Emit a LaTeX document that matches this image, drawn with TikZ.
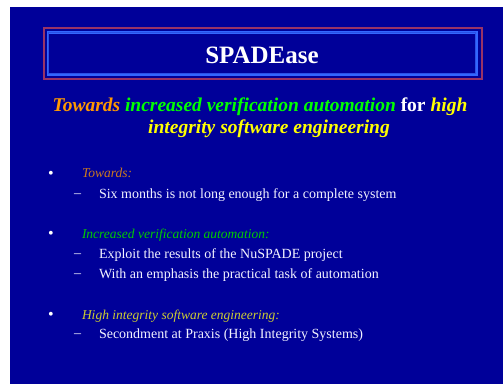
\documentclass[tikz,border=0pt]{standalone}
\usepackage{fontspec}
\setmainfont{Liberation Serif}[
  UprightFont={Liberation Serif},
  BoldFont={Liberation Serif Bold},
  ItalicFont={Liberation Serif Italic},
  BoldItalicFont={Liberation Serif Bold Italic}]
\definecolor{bgblue}{HTML}{000099}
\definecolor{frameout}{HTML}{993366}
\definecolor{framein}{HTML}{3366FF}
\definecolor{framemid}{HTML}{2A50E6}
\definecolor{torange}{HTML}{FF9900}
\definecolor{tgreen}{HTML}{00FF00}
\definecolor{tyellow}{HTML}{FFFF00}
\definecolor{horange}{HTML}{CC7A1F}
\definecolor{hgreen}{HTML}{00CC00}
\definecolor{hyellow}{HTML}{CCCC33}
\definecolor{btext}{HTML}{F2F2FF}
\begin{document}
\begin{tikzpicture}[x=1pt,y=-1pt,
  txt/.style={inner sep=0pt,outer sep=0pt},
  body/.style={txt,anchor=base west,text=btext,font=\fontsize{14}{16}\selectfont},
  head/.style={txt,anchor=base west,font=\fontsize{13.5}{16}\selectfont\itshape},
  bul/.style={txt,text=white,font=\fontsize{16}{18}\selectfont},
  dsh/.style={txt,text=btext,font=\fontsize{14}{16}\selectfont}]
\useasboundingbox (0,0) rectangle (503,384);
\fill[white] (0,0) rectangle (503,384);
\fill[bgblue] (10,7) rectangle (503,384);
% title frames
\draw[frameout,line width=2pt] (44.3,28.3) rectangle (481.7,78.7);
\draw[framein,line width=2.8pt] (48,32.2) rectangle (476.2,74.2);
\draw[framemid,line width=0.8pt] (48.6,32.8) rectangle (475.6,73.6);
\node[txt,anchor=base,text=white,font=\fontsize{25}{28}\selectfont\bfseries] (title) at (262,63.3) {SPADEase};
% subtitle
\node[txt,anchor=base,font=\fontsize{19.5}{22}\selectfont\bfseries] (sub1) at (260,111)
  {\textcolor{torange}{\textit{Towards}} \textcolor{tgreen}{\textit{increased verification automation}} \textcolor{white}{for} \textcolor{tyellow}{\textit{high}}};
\node[txt,anchor=base,text=tyellow,font=\fontsize{19.5}{22}\selectfont\bfseries\itshape] (sub2) at (269,133.3)
  {integrity software engineering};
% bullets
\node[bul] (b1) at (51,175.3) {•};
\node[head,text=horange] (h1) at (82,177.7) {Towards:};
\node[dsh] (d1) at (77.5,196) {–};
\node[body] (t1) at (99,198.3) {Six months is not long enough for a complete system};
\node[bul] (b2) at (51,235.3) {•};
\node[head,text=hgreen] (h2) at (82,238.3) {Increased verification automation:};
\node[dsh] (d2) at (77.5,256) {–};
\node[body] (t2) at (99,258.3) {Exploit the results of the NuSPADE project};
\node[dsh] (d3) at (77.5,276) {–};
\node[body] (t3) at (99,278.3) {With an emphasis the practical task of automation};
\node[bul] (b3) at (51,316.3) {•};
\node[head,text=hyellow] (h3) at (82,319) {High integrity software engineering:};
\node[dsh] (d4) at (77.5,336) {–};
\node[body] (t4) at (99,338.3) {Secondment at Praxis (High Integrity Systems)};
\end{tikzpicture}
\end{document}
